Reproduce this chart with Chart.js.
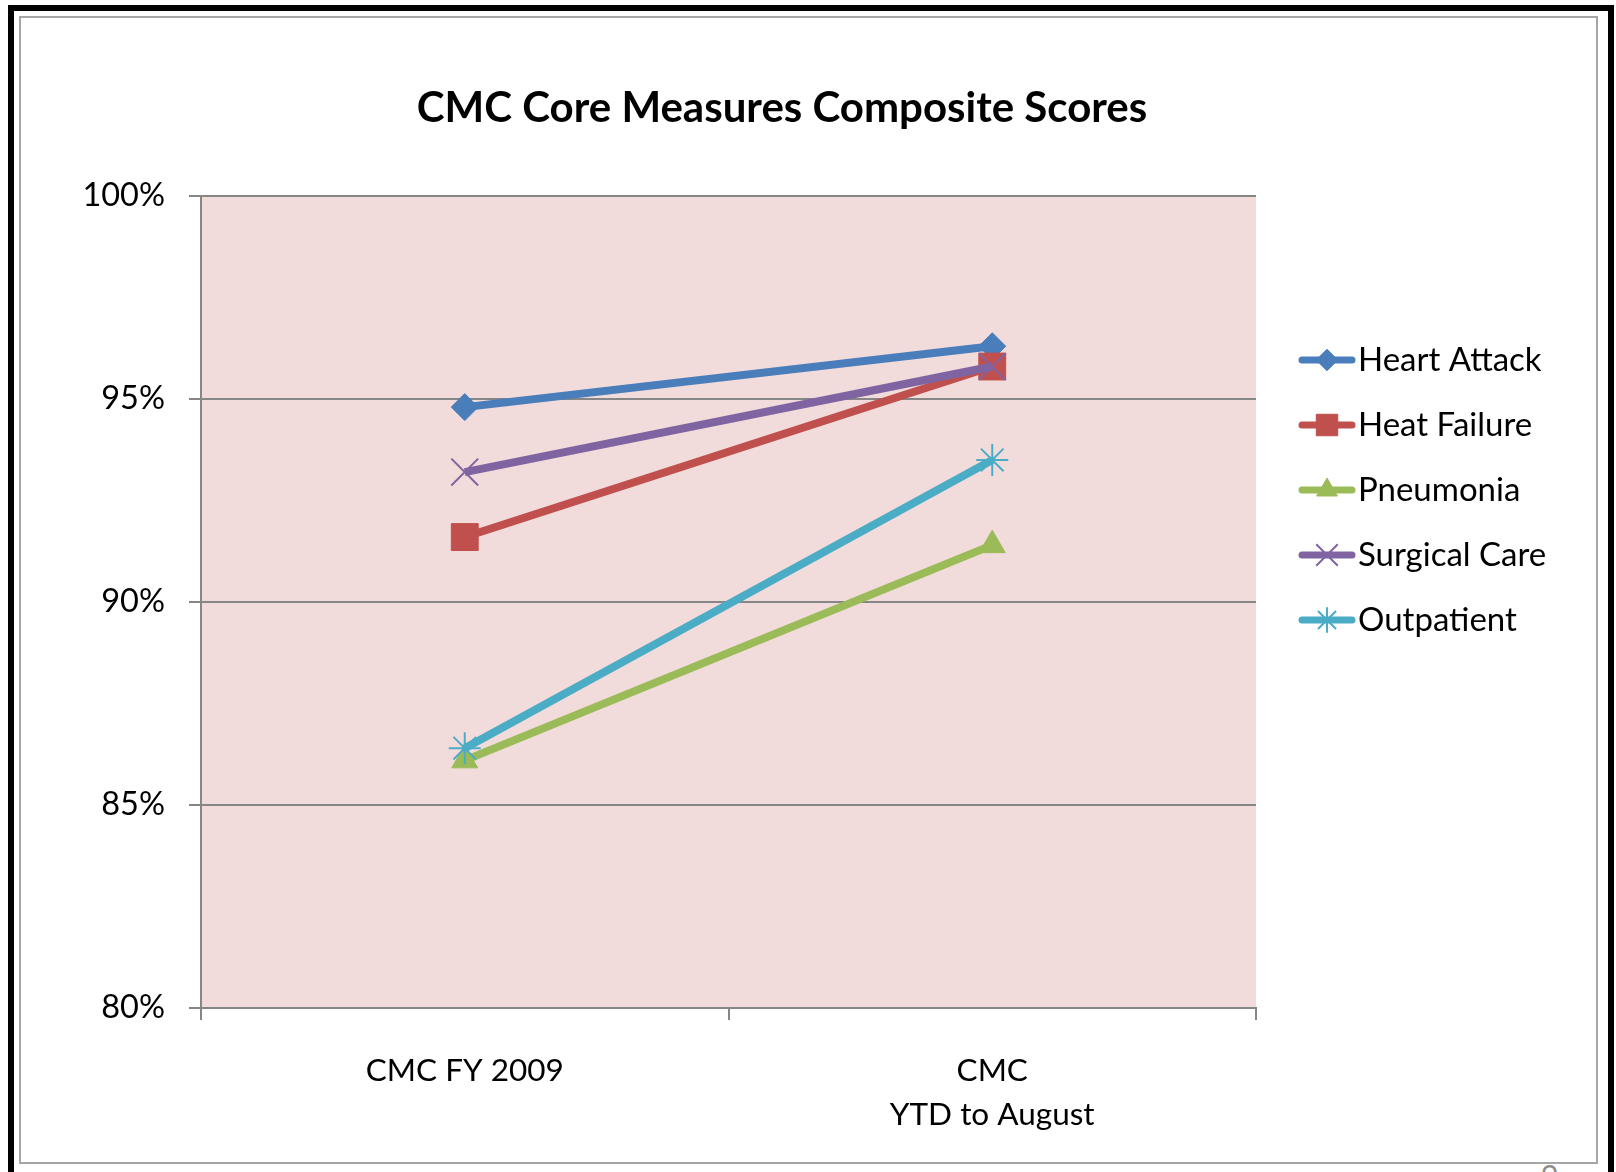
<!DOCTYPE html>
<html>
<head>
<meta charset="utf-8">
<script src="https://cdn.jsdelivr.net/npm/chart.js@4/dist/chart.umd.min.js"></script>
<style>
  html, body { margin: 0; padding: 0; background: #fff; overflow: hidden; width: 1616px; height: 1172px; }
  .outer { position: absolute; left: 8px; top: 5px; width: 1594px; height: 1220px; border: 6px solid #000; }
  .inner { position: absolute; left: 19px; top: 16px; width: 1575px; height: 1144px; border: 2px solid #a6a6a6; }
  .pageno { position: absolute; left: 1541px; top: 1157px; font: 30px Lato, sans-serif; color: #8c8c8c; }
  #chart { position: absolute; left: 0; top: 0; }
</style>
</head>
<body>
<div class="outer"></div>
<div class="inner"></div>
<div class="pageno">9</div>
<canvas id="chart" width="1564" height="1172"></canvas>
<script>
const title = 'CMC Core Measures Composite Scores';
const categories = ['CMC FY 2009', ['CMC', 'YTD to August']];
const seriesNames = ['Heart Attack', 'Heat Failure', 'Pneumonia', 'Surgical Care', 'Outpatient'];
const heartAttack = [94.8, 96.3];
const heatFailure = [91.6, 95.8];
const pneumonia = [86.1, 91.4];
const surgicalCare = [93.2, 95.8];
const outpatient = [86.4, 93.5];
const yTicks = [80, 85, 90, 95, 100];

const colors = ['#4a7ebb', '#c0504d', '#9bbb59', '#8064a2', '#4bacc6'];
const markers = [
  { style: 'rectRot', r: 13.5, bw: 1 },
  { style: 'rect', r: 19, bw: 1 },
  { style: 'triangle', r: 15, bw: 1 },
  { style: 'crossRot', r: 19, bw: 2 },
  { style: 'star', r: 16, bw: 2 }
];
const values = [heartAttack, heatFailure, pneumonia, surgicalCare, outpatient];
const font = 'Lato';

const datasets = seriesNames.map((name, i) => ({
  label: name,
  data: values[i],
  borderColor: colors[i],
  backgroundColor: colors[i],
  borderWidth: 8,
  tension: 0,
  pointStyle: markers[i].style,
  pointRadius: markers[i].r,
  pointBorderWidth: markers[i].bw,
  pointBackgroundColor: colors[i],
  pointBorderColor: colors[i],
  order: seriesNames.length - 1 - i
}));

// pink plot area + title (title is centred on the slide frame, not the plot)
const plotBg = {
  id: 'plotBg',
  beforeDraw(chart) {
    const { ctx, chartArea: a } = chart;
    ctx.save();
    ctx.fillStyle = '#f2dcdb';
    ctx.fillRect(a.left, a.top, a.right - a.left, a.bottom - a.top);
    ctx.fillStyle = '#000';
    ctx.font = 'bold 42px ' + font;
    ctx.textAlign = 'center';
    ctx.textBaseline = 'middle';
    ctx.fillText(title, 782, 108);
    ctx.restore();
  }
};

// legend: line with marker, like the office legend
const lineLegend = {
  id: 'lineLegend',
  afterDraw(chart) {
    const { ctx, chartArea: a } = chart;
    const x0 = a.right + 46, x1 = a.right + 96, y0 = 360, step = 65;
    ctx.save();
    seriesNames.forEach((name, i) => {
      const y = y0 + i * step;
      ctx.strokeStyle = colors[i];
      ctx.lineWidth = 7;
      ctx.lineCap = 'round';
      ctx.beginPath();
      ctx.moveTo(x0, y);
      ctx.lineTo(x1, y);
      ctx.stroke();
      ctx.fillStyle = colors[i];
      ctx.strokeStyle = colors[i];
      ctx.lineWidth = markers[i].bw;
      ctx.lineCap = 'butt';
      Chart.helpers.drawPoint(ctx, { pointStyle: markers[i].style, radius: markers[i].r * 0.8, rotation: 0, borderWidth: markers[i].bw }, (x0 + x1) / 2, y);
      ctx.fillStyle = '#000';
      ctx.font = '33px ' + font;
      ctx.textBaseline = 'middle';
      ctx.textAlign = 'left';
      ctx.fillText(name, x1 + 6, y);
    });
    ctx.restore();
  }
};

new Chart(document.getElementById('chart'), {
  type: 'line',
  data: { labels: categories, datasets },
  options: {
    responsive: false,
    animation: false,
    devicePixelRatio: 1,
    layout: { padding: { left: 0, right: 308, top: 196, bottom: 0 } },
    plugins: {
      legend: { display: false },
      tooltip: { enabled: false },
      title: { display: false }
    },
    scales: {
      x: {
        offset: true,
        grid: { display: true, offset: true, drawOnChartArea: false, drawTicks: true, tickLength: 12, color: '#868686', lineWidth: 2 },
        border: { display: true, color: '#868686', width: 2 },
        ticks: { color: '#000', font: { family: font, size: 31.5, lineHeight: 1.42 }, padding: 28, maxRotation: 0, autoSkip: false },
        afterFit(scale) { scale.height = 164; }
      },
      y: {
        min: yTicks[0],
        max: yTicks[yTicks.length - 1],
        afterBuildTicks(scale) { scale.ticks = yTicks.map(v => ({ value: v })); },
        grid: { color: '#868686', lineWidth: 2, drawTicks: true, tickLength: 12 },
        border: { display: true, color: '#868686', width: 2 },
        ticks: { color: '#000', font: { family: font, size: 32.5 }, padding: 24, callback: v => v + '%' },
        afterFit(scale) { scale.width = 201; }
      }
    }
  },
  plugins: [plotBg, lineLegend]
});
</script>
</body>
</html>
